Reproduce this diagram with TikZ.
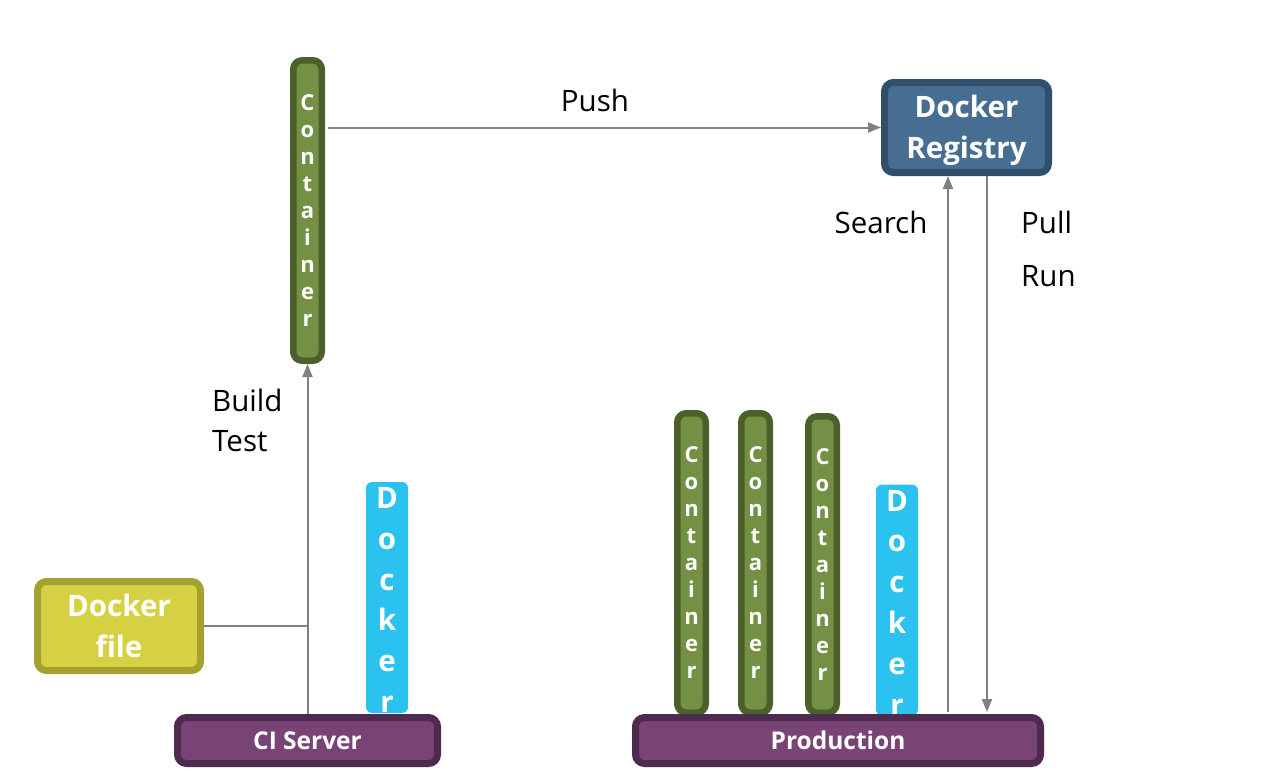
\documentclass[tikz,border=0pt]{standalone}
\usepackage{fontspec}
\setmainfont{Open Sans}
\usetikzlibrary{arrows.meta,calc}
\definecolor{contB}{HTML}{4A612B}
\definecolor{contF}{HTML}{739044}
\definecolor{regB}{HTML}{304F6D}
\definecolor{regF}{HTML}{476E92}
\definecolor{dfB}{HTML}{A5A131}
\definecolor{dfF}{HTML}{D6D142}
\definecolor{purB}{HTML}{4E2A4F}
\definecolor{purF}{HTML}{784476}
\definecolor{dkblue}{HTML}{2CC2EF}
\definecolor{arrgray}{HTML}{808080}
\begin{document}
\begin{tikzpicture}[x=1pt,y=-1pt,
  contbox/.style={draw=contB,fill=contF,line width=6.5pt,rounded corners=9pt,
    minimum width=28.5pt,minimum height=300.5pt,inner sep=0pt,text=white,align=center,
    font=\fontsize{22}{27}\selectfont\bfseries},
  bigbox/.style={line width=7pt,rounded corners=9pt,inner sep=0pt,text=white,align=center,
    font=\fontsize{29.5}{41}\selectfont\bfseries},
  barbox/.style={draw=purB,fill=purF,line width=7pt,rounded corners=9pt,inner sep=0pt,
    minimum height=46pt,text=white,font=\fontsize{24.5}{28}\selectfont\bfseries},
  dockbox/.style={fill=dkblue,rounded corners=6pt,minimum width=42pt,minimum height=231pt,
    inner sep=0pt,text=white,align=center,font=\fontsize{29.5}{40.8}\selectfont\bfseries},
  arr/.style={draw=arrgray,line width=2pt,-{Triangle[length=13pt,width=10pt]}},
  plain/.style={draw=arrgray,line width=2pt},
  lbl/.style={font=\fontsize{29.5}{41}\selectfont,inner sep=0pt}]
\useasboundingbox (0,0) rectangle (1263,780);
% top container
\node[contbox] (cont) at (307.5,210.5) {C\\o\\n\\t\\a\\i\\n\\e\\r};
% registry
\node[bigbox,draw=regB,fill=regF,minimum width=164pt,minimum height=90pt] (reg) at (966.5,127.5) {\rule{0pt}{28pt}Docker\\Registry};
% docker file
\node[bigbox,draw=dfB,fill=dfF,minimum width=163pt,minimum height=89pt] (df) at (119,626) {Docker\\file};
% docker blue bars
\node[dockbox] (dk1) at (387,597.5) {\rule{0pt}{26pt}D\\o\\c\\k\\e\\r};
\node[dockbox] (dk2) at (897,600) {\rule{0pt}{26pt}D\\o\\c\\k\\e\\r};
% production containers
\node[contbox,minimum height=299.5pt] (pc1) at (691.5,563) {C\\o\\n\\t\\a\\i\\n\\e\\r};
\node[contbox,minimum height=299.5pt] (pc2) at (755.5,563) {C\\o\\n\\t\\a\\i\\n\\e\\r};
\node[contbox,minimum height=296.5pt] (pc3) at (822.5,564.5) {C\\o\\n\\t\\a\\i\\n\\e\\r};
% bars
\node[barbox,minimum width=260pt] (ci) at (307.5,740.5) {CI Server};
\node[barbox,minimum width=405pt] (prod) at (838,740.5) {Production};
% coordinates for vertical arrows
\coordinate (sx) at (948,0);
\coordinate (px) at (987,0);
% connectors
\draw[arr,shorten <=3pt] (cont.east |- reg.west) -- (reg.west);
\draw[arr] (ci.north) -- (cont.south);
\draw[plain] (df.east) -- (ci.north |- df.east);
\draw[arr,shorten <=2pt] (prod.north -| sx) -- (reg.south -| sx);
\draw[arr,shorten >=2pt] (reg.south -| px) -- (prod.north -| px);
% labels
\node[lbl] (push) at (595,100) {Push};
\node[lbl,anchor=west] (build) at (212,400) {Build};
\node[lbl,anchor=west] (test) at (212,441) {Test};
\node[lbl] (search) at (881,222) {Search};
\node[lbl,anchor=west] (pull) at (1021,222) {Pull};
\node[lbl,anchor=west] (run) at (1021,276) {Run};
\end{tikzpicture}
\end{document}
